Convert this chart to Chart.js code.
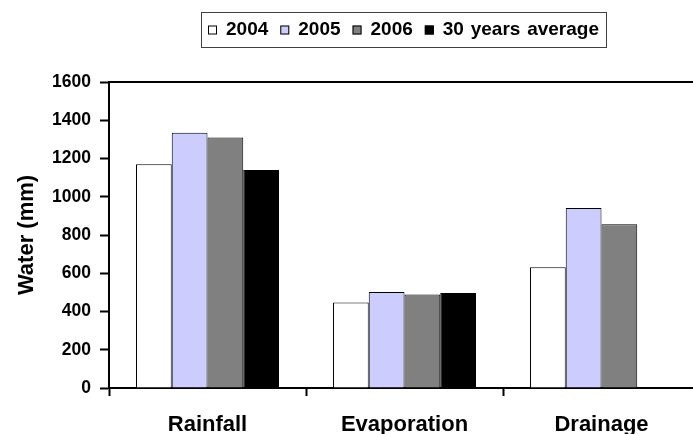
<!DOCTYPE html>
<html>
<head>
<meta charset="utf-8">
<script src="https://cdn.jsdelivr.net/npm/chart.js@4/dist/chart.umd.min.js"></script>
<style>
  html, body { margin: 0; padding: 0; background: #fff; }
  #frame { width: 693px; height: 434px; overflow: hidden; position: relative; }
  canvas { display: block; }
</style>
</head>
<body>
<div id="frame"><canvas id="c" width="720" height="434"></canvas></div>
<script>
// Water balance components per year (mm)
const categories = ['Rainfall', 'Evaporation', 'Drainage'];
const seriesLabels = ['2004', '2005', '2006', '30 years average'];
const values2004 = [1170, 447, 631];
const values2005 = [1335, 502, 941];
const values2006 = [1310, 489, 856];
const values30yr = [1140, 497, null];
const yTickMin = 0;
const yTickMax = 1600;
const yTickStep = 200;

const fills = ['#FFFFFF', '#CCCCFF', '#808080', '#000000'];
const FONT = "'Liberation Sans', Arial, sans-serif";

// Boxed legend row across the top
const boxLegend = {
  id: 'boxLegend',
  afterDraw(chart) {
    const ctx = chart.ctx;
    ctx.save();
    ctx.font = 'bold 19px ' + FONT;
    if ('wordSpacing' in ctx) ctx.wordSpacing = '1.5px';
    ctx.textBaseline = 'middle';
    const boxL = 201, boxT = 12, boxR = 606, boxB = 47;
    ctx.strokeStyle = '#404040';
    ctx.lineWidth = 1;
    ctx.strokeRect(boxL + 0.5, boxT + 0.5, boxR - boxL, boxB - boxT);
    let x = 208;
    const cy = 30;
    chart.data.datasets.forEach((ds) => {
      ctx.fillStyle = ds.backgroundColor;
      ctx.fillRect(x, cy - 4.5, 9, 9);
      ctx.strokeStyle = '#000';
      ctx.lineWidth = 1;
      ctx.strokeRect(x + 0.5, cy - 4, 8, 8);
      x += 9 + 9;
      ctx.fillStyle = '#000';
      ctx.fillText(ds.label, x, cy);
      x += ctx.measureText(ds.label).width + 12;
    });
    ctx.restore();
  }
};

// Top and right edges of the plot frame
const plotFrame = {
  id: 'plotFrame',
  afterDraw(chart) {
    const {ctx, chartArea: a} = chart;
    ctx.save();
    ctx.strokeStyle = '#000';
    ctx.lineWidth = 2;
    ctx.beginPath();
    ctx.moveTo(a.left, a.top);
    ctx.lineTo(a.right, a.top);
    ctx.lineTo(a.right, a.bottom);
    ctx.stroke();
    ctx.restore();
  }
};

const datasets = [values2004, values2005, values2006, values30yr].map((vals, i) => ({
  label: seriesLabels[i],
  data: vals,
  backgroundColor: fills[i],
  borderColor: '#000',
  borderWidth: 1,
  categoryPercentage: 0.726,
  barPercentage: 1.0
}));

new Chart(document.getElementById('c'), {
  type: 'bar',
  data: { labels: categories, datasets },
  options: {
    responsive: false,
    devicePixelRatio: 1,
    animation: false,
    layout: { padding: { top: 82, right: 20, left: 0, bottom: 0 } },
    plugins: { legend: { display: false }, tooltip: { enabled: false } },
    scales: {
      x: {
        afterFit(s) { s.height = 46; },
        grid: { display: true, drawOnChartArea: false, offset: true, tickLength: 8, tickWidth: 2, tickColor: '#000' },
        border: { display: true, color: '#000', width: 2 },
        ticks: { color: '#000', font: { family: FONT, size: 22, weight: 'bold' }, padding: 16, maxRotation: 0 }
      },
      y: {
        min: yTickMin,
        max: yTickMax,
        afterFit(s) { s.width = 109; },
        grid: { display: true, drawOnChartArea: false, tickLength: 9, tickWidth: 2, tickColor: '#000' },
        border: { display: true, color: '#000', width: 2 },
        ticks: {
          stepSize: yTickStep, color: '#000', padding: 9,
          font: { family: FONT, size: 17.5, weight: 'bold' },
          callback: (v) => String(v)
        },
        title: { display: true, text: 'Water (mm)', color: '#000', font: { family: FONT, size: 22, weight: 'bold' }, padding: { top: 14, bottom: 0 } }
      }
    }
  },
  plugins: [boxLegend, plotFrame]
});
</script>
</body>
</html>
